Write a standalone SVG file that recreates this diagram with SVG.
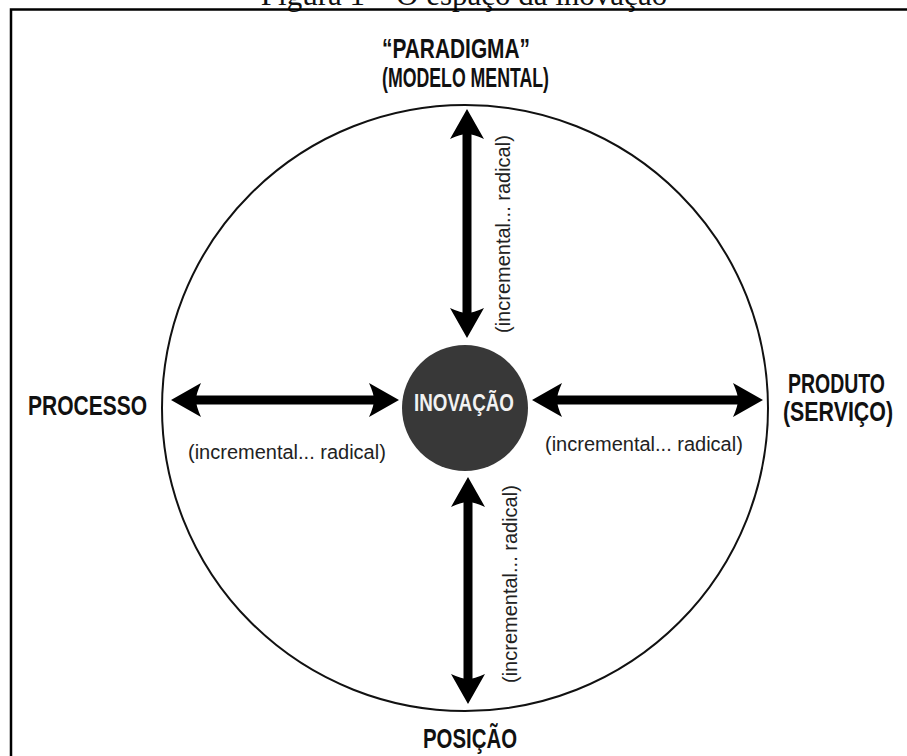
<svg xmlns="http://www.w3.org/2000/svg" width="907" height="756" viewBox="0 0 907 756">
  <style>
    .title { font-family: "Liberation Serif", "Times New Roman", serif; font-size: 31px; fill: #111; }
    .axis { font-family: "Liberation Sans", Arial, sans-serif; font-weight: bold; font-size: 28px; fill: #111; }
    .core { font-family: "Liberation Sans", Arial, sans-serif; font-weight: bold; font-size: 24px; fill: #f2f2f2; }
    .range { font-family: "Liberation Sans", Arial, sans-serif; font-size: 20px; fill: #222; }
    .shaft { stroke: #000; stroke-width: 9; fill: none; marker-start: url(#head); marker-end: url(#head); }
  </style>
  <defs>
    <marker id="head" viewBox="0 -18 32 36" refX="15" refY="0" markerWidth="32" markerHeight="36" markerUnits="userSpaceOnUse" orient="auto-start-reverse">
      <path d="M31,0 L1,-17 Q6,-6 6,0 Q6,6 1,17 Z" fill="#000"/>
    </marker>
  </defs>

  <rect width="907" height="756" fill="#fff"/>

  <!-- caption, clipped by the page top -->
  <text class="title" x="464" y="5" text-anchor="middle">Figura 1 – O espaço da inovação</text>

  <!-- frame -->
  <path d="M11,780 V9.5 H920" fill="none" stroke="#000" stroke-width="2.5"/>

  <!-- outer boundary -->
  <g id="space">
    <circle cx="465" cy="408" r="303" fill="none" stroke="#111" stroke-width="2"/>
  </g>

  <g id="connectors">
    <line class="shaft" x1="467" y1="125" x2="467" y2="322"/>
    <line class="shaft" x1="468" y1="493" x2="468" y2="688"/>
    <line class="shaft" x1="187" y1="400" x2="383" y2="400"/>
    <line class="shaft" x1="548" y1="400" x2="747" y2="400"/>
  </g>

  <g id="inovacao">
    <circle cx="465" cy="408" r="63" fill="#383838"/>
    <text class="core" x="464" y="411" text-anchor="middle" textLength="100" lengthAdjust="spacingAndGlyphs">INOVAÇÃO</text>
  </g>

  <g id="paradigma">
    <text class="axis" x="382" y="58" textLength="148" lengthAdjust="spacingAndGlyphs">“PARADIGMA”</text>
    <text class="axis" x="382" y="87" textLength="167" lengthAdjust="spacingAndGlyphs">(MODELO MENTAL)</text>
  </g>

  <g id="processo">
    <text class="axis" x="28" y="415" textLength="119" lengthAdjust="spacingAndGlyphs">PROCESSO</text>
  </g>

  <g id="produto">
    <text class="axis" x="788" y="393" textLength="97" lengthAdjust="spacingAndGlyphs">PRODUTO</text>
    <text class="axis" x="783" y="421" textLength="110" lengthAdjust="spacingAndGlyphs">(SERVIÇO)</text>
  </g>

  <g id="posicao">
    <text class="axis" x="470" y="748" text-anchor="middle" textLength="94" lengthAdjust="spacingAndGlyphs">POSIÇÃO</text>
  </g>

  <!-- range labels -->
  <text class="range" x="188" y="459">(incremental... radical)</text>
  <text class="range" x="545" y="451">(incremental... radical)</text>
  <text class="range" transform="translate(510,333) rotate(-90)">(incremental... radical)</text>
  <text class="range" transform="translate(517,683) rotate(-90)">(incremental... radical)</text>
</svg>
